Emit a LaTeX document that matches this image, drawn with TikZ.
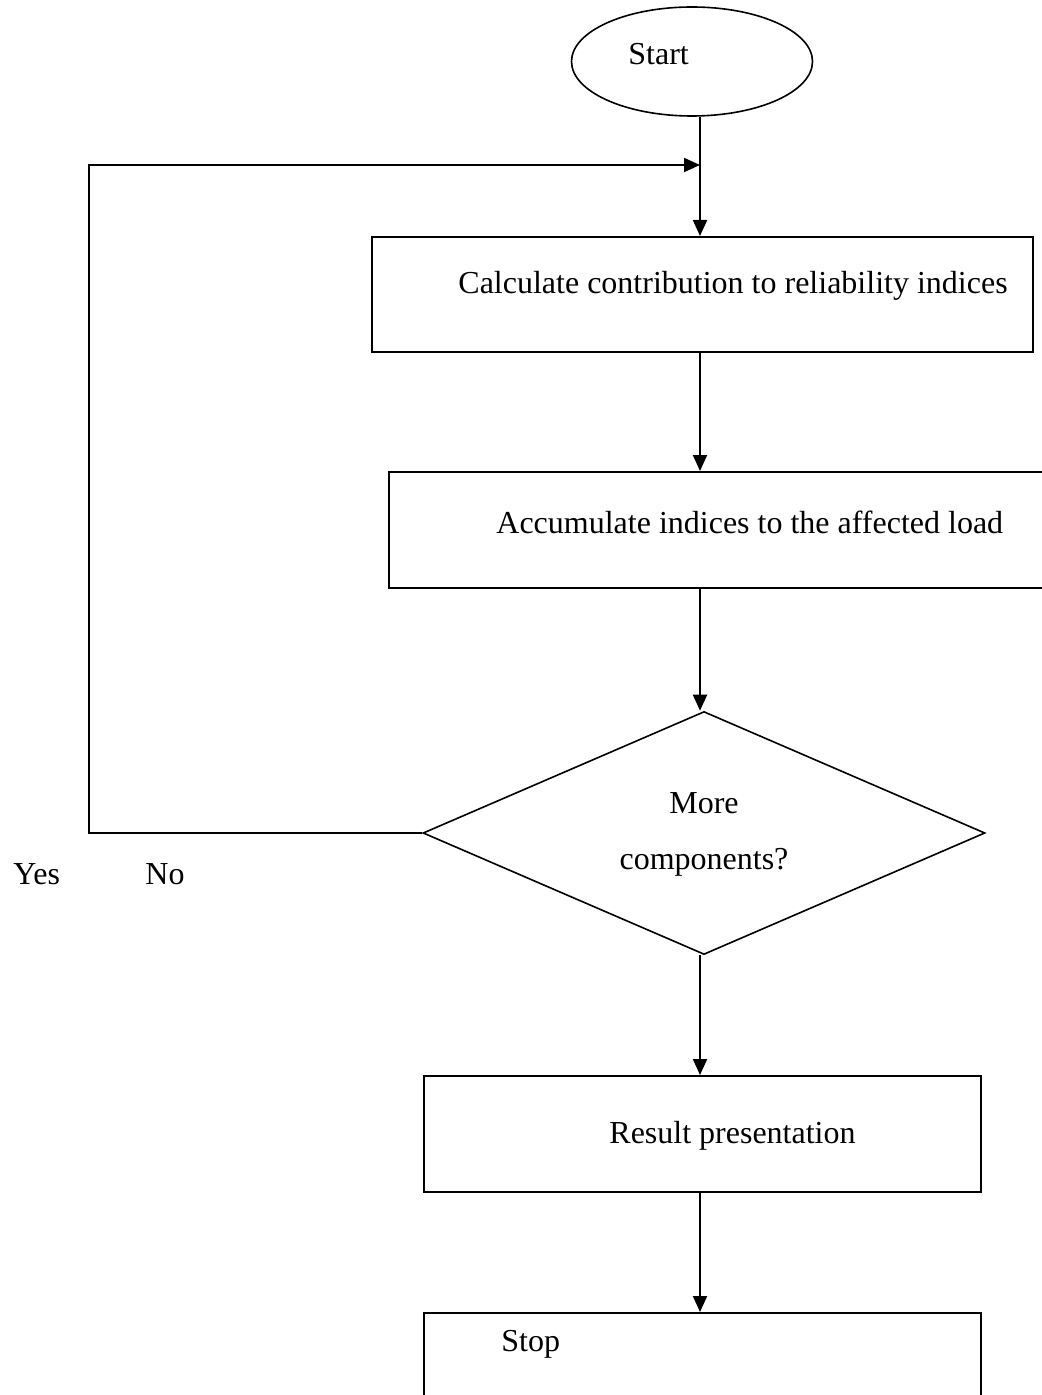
\documentclass[tikz,border=0pt]{standalone}
\usepackage{fontspec}
\setmainfont{Liberation Serif}
\usetikzlibrary{shapes.geometric,arrows.meta}
\begin{document}
\begin{tikzpicture}[x=0.5pt,y=-0.5pt,
  every node/.style={font=\fontsize{16}{19}\selectfont},
  box/.style={draw,line width=1pt,rectangle,inner sep=0pt},
  flow/.style={line width=1pt,-{Triangle[length=8pt,width=7pt]}},
  txt/.style={inner sep=0pt,anchor=base west}]
\useasboundingbox (0,0) rectangle (1042,1395);

% vertical axis of the main flow and the corner of the return loop
\coordinate (axis) at (700,0);
\coordinate (loop) at (89,165);

% shapes
\node[draw,ellipse,line width=0.8pt,minimum width=120.5pt,minimum height=54.5pt,inner sep=0pt] (start) at (692,61.5) {};
\node[box,minimum width=330.5pt,minimum height=57.5pt] (calc) at (702.5,294.5) {};
\node[box,minimum width=328.5pt,minimum height=58pt] (accu) at (717.5,530) {};
\node[draw,diamond,line width=0.8pt,minimum width=281pt,minimum height=121.5pt,inner sep=0pt] (more) at (704,833) {};
\node[box,minimum width=278.5pt,minimum height=58pt] (res) at (702.5,1134) {};
\node[box,minimum width=278.5pt,minimum height=58.5pt] (stop) at (702.5,1371.5) {};

% texts
\node[txt] (tstart) at (628,65) {Start};
\node[txt] (tcalc) at (458,294) {Calculate contribution to reliability indices};
\node[txt] (taccu) at (496,533) {Accumulate indices to the affected load};
\node[inner sep=0pt,anchor=base] (tmore1) at (704,813) {More};
\node[inner sep=0pt,anchor=base] (tmore2) at (704,869) {components?};
\node[txt] (tres) at (609,1143) {Result presentation};
\node[txt] (tstop) at (501,1351) {Stop};
\node[txt] (yes) at (13,884) {Yes};
\node[txt] (no) at (145,884) {No};

% connectors
\draw[flow] (start.south -| axis) -- (calc.north -| axis);
\draw[flow] (calc.south -| axis) -- (accu.north -| axis);
\draw[flow] (accu.south -| axis) -- (more.north -| axis);
\draw[flow] (more.south -| axis) -- (res.north -| axis);
\draw[flow] (res.south -| axis) -- (stop.north -| axis);
\draw[flow] (more.west) -| (loop) -- (loop -| axis);
\end{tikzpicture}
\end{document}
